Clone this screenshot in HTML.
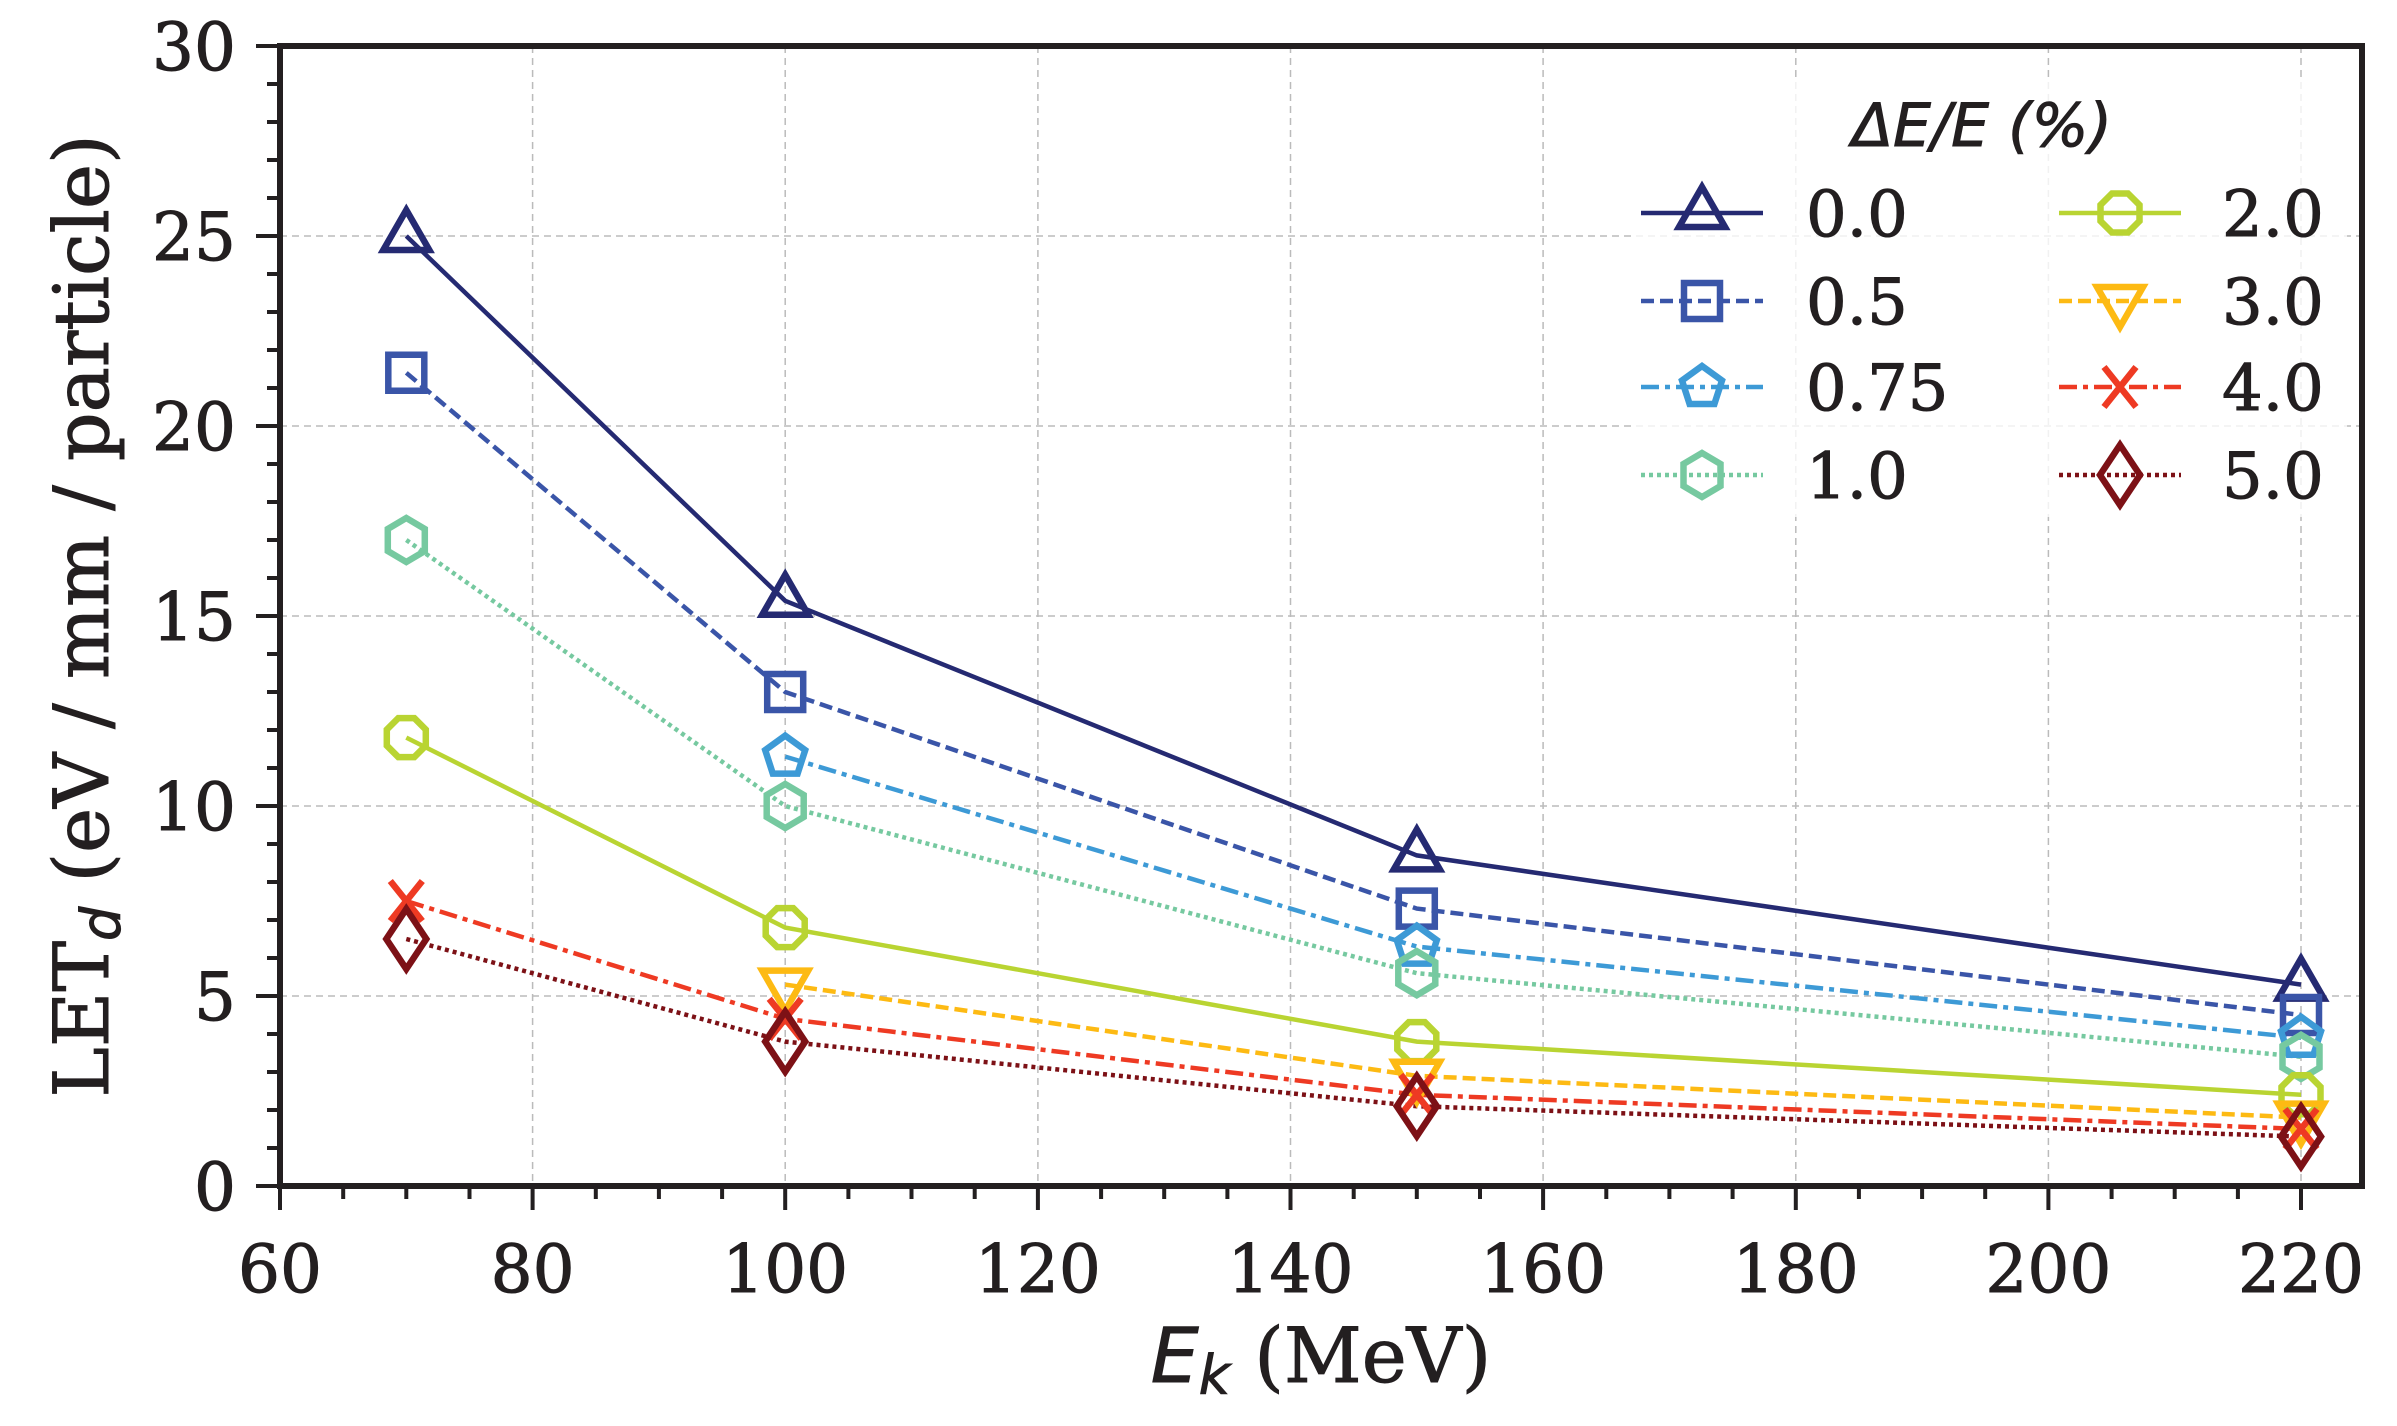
<!DOCTYPE html>
<html><head><meta charset="utf-8"><style>html,body{margin:0;padding:0;background:#fff}svg{display:block}</style></head>
<body>
<svg width="2397" height="1426" viewBox="0 0 2397 1426" xmlns="http://www.w3.org/2000/svg">
<defs>
<path id="tu" d="M0,-26 L23,14 L-23,14 Z"/>
<path id="sq" d="M-18,-18 H18 V18 H-18 Z"/>
<path id="pe" d="M0,-21 L20,-6.5 L12.4,17 L-12.4,17 L-20,-6.5 Z"/>
<path id="hx" d="M0,-22 L18.5,-11 L18.5,11 L0,22 L-18.5,11 L-18.5,-11 Z"/>
<path id="oc" d="M8,-19.5 L19.5,-8 L19.5,8 L8,19.5 L-8,19.5 L-19.5,8 L-19.5,-8 L-8,-19.5 Z"/>
<path id="td" d="M0,26 L23,-14 L-23,-14 Z"/>
<path id="xx" d="M-16,-20 L16,20 M-16,20 L16,-20"/>
<path id="di" d="M0,-30 L20,0 L0,30 L-20,0 Z"/>
</defs>
<g stroke="#bbbbbb" stroke-width="1.5" stroke-dasharray="7,5" fill="none">
<path d="M532.6,46V1186M785.2,46V1186M1037.9,46V1186M1290.5,46V1186M1543.1,46V1186M1795.8,46V1186M2048.4,46V1186M2301,46V1186"/>
<path d="M280,996H2362M280,806H2362M280,616H2362M280,426H2362M280,236H2362"/>
</g>
<g fill="none" stroke-width="4.5">
<polyline stroke="#252a72" points="406.3,236 785.2,600.8 1416.8,855.4 2301,984.6"/>
<polyline stroke="#3a55a8" stroke-dasharray="13,6" points="406.3,372.8 785.2,692 1416.8,908.6 2301,1015"/>
<polyline stroke="#3d9ad6" stroke-dasharray="18,6,5,6" points="785.2,756.6 1416.8,946.6 2301,1037.8"/>
<polyline stroke="#76c9a0" stroke-dasharray="4,4" points="406.3,540 785.2,806 1416.8,973.2 2301,1056.8"/>
<polyline stroke="#b9d432" points="406.3,737.6 785.2,927.6 1416.8,1041.6 2301,1094.8"/>
<polyline stroke="#fdba13" stroke-dasharray="13,6" points="785.2,984.6 1416.8,1075.8 2301,1117.6"/>
<polyline stroke="#ee3a23" stroke-dasharray="18,6,5,6" points="406.3,901 785.2,1018.8 1416.8,1094.8 2301,1129"/>
<polyline stroke="#7d1116" stroke-dasharray="4,4" points="406.3,939 785.2,1041.6 1416.8,1106.2 2301,1136.6"/>
</g>
<g fill="none" stroke-width="6.5">
<g stroke="#252a72"><use href="#tu" x="406.3" y="236"/><use href="#tu" x="785.2" y="600.8"/><use href="#tu" x="1416.8" y="855.4"/><use href="#tu" x="2301" y="984.6"/></g>
<g stroke="#3a55a8"><use href="#sq" x="406.3" y="372.8"/><use href="#sq" x="785.2" y="692"/><use href="#sq" x="1416.8" y="908.6"/><use href="#sq" x="2301" y="1015"/></g>
<g stroke="#3d9ad6"><use href="#pe" x="785.2" y="756.6"/><use href="#pe" x="1416.8" y="946.6"/><use href="#pe" x="2301" y="1037.8"/></g>
<g stroke="#76c9a0"><use href="#hx" x="406.3" y="540"/><use href="#hx" x="785.2" y="806"/><use href="#hx" x="1416.8" y="973.2"/><use href="#hx" x="2301" y="1056.8"/></g>
<g stroke="#b9d432"><use href="#oc" x="406.3" y="737.6"/><use href="#oc" x="785.2" y="927.6"/><use href="#oc" x="1416.8" y="1041.6"/><use href="#oc" x="2301" y="1094.8"/></g>
<g stroke="#fdba13"><use href="#td" x="785.2" y="984.6"/><use href="#td" x="1416.8" y="1075.8"/><use href="#td" x="2301" y="1117.6"/></g>
<g stroke="#ee3a23"><use href="#xx" x="406.3" y="901"/><use href="#xx" x="785.2" y="1018.8"/><use href="#xx" x="1416.8" y="1094.8"/><use href="#xx" x="2301" y="1129"/></g>
<g stroke="#7d1116"><use href="#di" x="406.3" y="939"/><use href="#di" x="785.2" y="1041.6"/><use href="#di" x="1416.8" y="1106.2"/><use href="#di" x="2301" y="1136.6"/></g>
</g>
<rect x="1632" y="82" width="715" height="435" fill="#fff" fill-opacity="0.8"/>
<text x="1982" y="146" font-family="DejaVu Sans, sans-serif" font-style="italic" font-size="60" text-anchor="middle" fill="#231f20" stroke="#231f20" stroke-width="1">ΔE/E (%)</text>
<g fill="none" stroke-width="4.5">
<path d="M1641,213H1763" stroke="#252a72"/>
<path d="M1641,301H1763" stroke="#3a55a8" stroke-dasharray="13,6"/>
<path d="M1641,387H1763" stroke="#3d9ad6" stroke-dasharray="18,6,5,6"/>
<path d="M1641,475H1763" stroke="#76c9a0" stroke-dasharray="4,4"/>
<path d="M2059,213H2181" stroke="#b9d432"/>
<path d="M2059,301H2181" stroke="#fdba13" stroke-dasharray="13,6"/>
<path d="M2059,387H2181" stroke="#ee3a23" stroke-dasharray="18,6,5,6"/>
<path d="M2059,475H2181" stroke="#7d1116" stroke-dasharray="4,4"/>
</g>
<g fill="none" stroke-width="6.5">
<use href="#tu" x="1702" y="213" stroke="#252a72"/>
<use href="#sq" x="1702" y="301" stroke="#3a55a8"/>
<use href="#pe" x="1702" y="387" stroke="#3d9ad6"/>
<use href="#hx" x="1702" y="475" stroke="#76c9a0"/>
<use href="#oc" x="2120" y="213" stroke="#b9d432"/>
<use href="#td" x="2120" y="301" stroke="#fdba13"/>
<use href="#xx" x="2120" y="387" stroke="#ee3a23"/>
<use href="#di" x="2120" y="475" stroke="#7d1116"/>
</g>
<g font-family="DejaVu Serif, serif" font-size="64" fill="#231f20" stroke="#231f20" stroke-width="1">
<text x="1806" y="236">0.0</text><text x="1806" y="324">0.5</text><text x="1806" y="410">0.75</text><text x="1806" y="498">1.0</text>
<text x="2222" y="236">2.0</text><text x="2222" y="324">3.0</text><text x="2222" y="410">4.0</text><text x="2222" y="498">5.0</text>
</g>
<rect x="280" y="46" width="2082" height="1140" fill="none" stroke="#231f20" stroke-width="6"/>
<g stroke="#231f20" stroke-width="4" fill="none">
<path d="M280,1186v24M532.6,1186v24M785.2,1186v24M1037.9,1186v24M1290.5,1186v24M1543.1,1186v24M1795.8,1186v24M2048.4,1186v24M2301,1186v24"/>
<path d="M343.2,1186v13M406.3,1186v13M469.5,1186v13M595.8,1186v13M658.9,1186v13M722.1,1186v13M848.4,1186v13M911.5,1186v13M974.7,1186v13M1101.1,1186v13M1164.2,1186v13M1227.4,1186v13M1353.7,1186v13M1416.8,1186v13M1480,1186v13M1606.3,1186v13M1669.4,1186v13M1732.6,1186v13M1858.9,1186v13M1922.1,1186v13M1985.2,1186v13M2111.6,1186v13M2174.7,1186v13M2237.9,1186v13"/>
<path d="M280,1186h-24M280,996h-24M280,806h-24M280,616h-24M280,426h-24M280,236h-24M280,46h-24"/>
<path d="M280,1148h-13M280,1110h-13M280,1072h-13M280,1034h-13M280,958h-13M280,920h-13M280,882h-13M280,844h-13M280,768h-13M280,730h-13M280,692h-13M280,654h-13M280,578h-13M280,540h-13M280,502h-13M280,464h-13M280,388h-13M280,350h-13M280,312h-13M280,274h-13M280,198h-13M280,160h-13M280,122h-13M280,84h-13"/>
</g>
<g font-family="DejaVu Serif, serif" font-size="66" fill="#231f20" stroke="#231f20" stroke-width="1" text-anchor="end">
<text x="236" y="1210">0</text><text x="236" y="1020">5</text><text x="236" y="830">10</text><text x="236" y="640">15</text><text x="236" y="450">20</text><text x="236" y="260">25</text><text x="236" y="70">30</text>
</g>
<g font-family="DejaVu Serif, serif" font-size="66" fill="#231f20" stroke="#231f20" stroke-width="1" text-anchor="middle">
<text x="280" y="1292">60</text><text x="532.6" y="1292">80</text><text x="785.2" y="1292">100</text><text x="1037.9" y="1292">120</text><text x="1290.5" y="1292">140</text><text x="1543.1" y="1292">160</text><text x="1795.8" y="1292">180</text><text x="2048.4" y="1292">200</text><text x="2301" y="1292">220</text>
</g>
<text x="1321" y="1382" font-family="DejaVu Serif, serif" font-size="76" fill="#231f20" stroke="#231f20" stroke-width="1" text-anchor="middle"><tspan font-family="DejaVu Sans, sans-serif" font-style="italic">E</tspan><tspan font-family="DejaVu Sans, sans-serif" font-style="italic" font-size="54" dy="12">k</tspan><tspan dy="-12"> (MeV)</tspan></text>
<text transform="translate(108,616) rotate(-90)" font-family="DejaVu Serif, serif" font-size="76" fill="#231f20" stroke="#231f20" stroke-width="1" text-anchor="middle">LET<tspan font-family="DejaVu Sans, sans-serif" font-style="italic" font-size="54" dy="12">d</tspan><tspan dy="-12"> (eV / mm / particle)</tspan></text>
</svg>
</body></html>
